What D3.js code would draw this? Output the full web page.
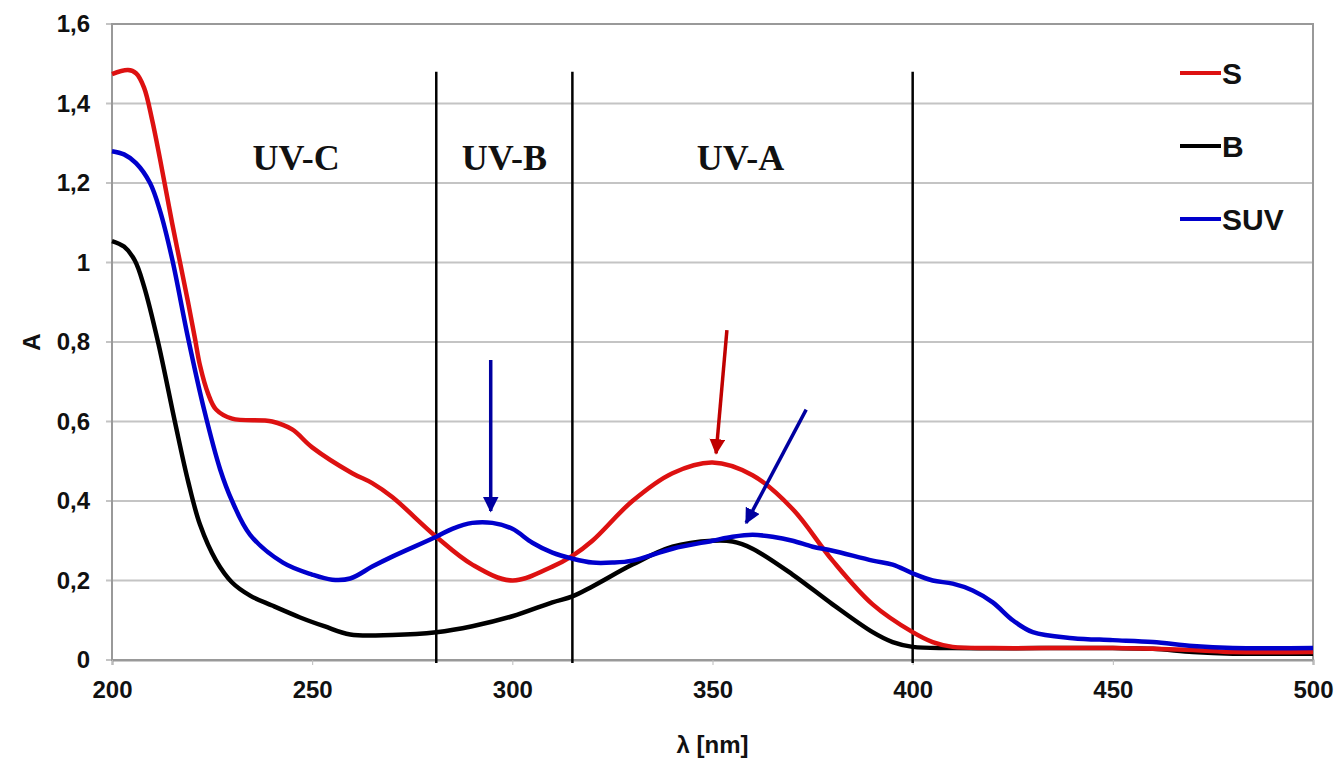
<!DOCTYPE html>
<html lang="es">
  <head>
    <meta charset="UTF-8" />
    <title>Espectros UV</title>
    <script src="https://cdn.jsdelivr.net/npm/d3@7"></script>
    <style>
      body {
        margin: 0;
        padding: 0;
        background: #fff;
      }
      text {
        font-family: "Liberation Sans", Arial, sans-serif;
        font-weight: bold;
      }
    </style>
  </head>
  <body>
    <svg id="chart"></svg>
    <script>
      // longitudes de onda (nm)
      const lambdaS = [200, 204, 206, 208, 210, 212, 215, 217, 219, 220.7, 222, 224, 226, 230, 240, 245, 250, 260, 265, 270, 281, 290, 300, 310, 315, 320, 330, 340, 350, 360, 370, 380, 390, 400, 405, 410, 420, 450, 470, 480, 500];
      const valuesS = [1.474, 1.484, 1.476, 1.44, 1.36, 1.26, 1.1, 1.0, 0.9, 0.81, 0.74, 0.67, 0.63, 0.607, 0.6, 0.58, 0.535, 0.47, 0.445, 0.41, 0.31, 0.24, 0.2, 0.235, 0.262, 0.3, 0.4, 0.47, 0.497, 0.465, 0.38, 0.25, 0.14, 0.07, 0.045, 0.033, 0.03, 0.03, 0.025, 0.02, 0.02];

      const lambdaB = [200, 203, 205.7, 208, 211.5, 215.7, 219, 222, 226, 230, 234.5, 240, 247, 253, 259.5, 270, 281, 290, 300, 310, 315, 320, 330, 340, 350, 355, 360, 370, 380, 390, 395, 400, 410, 450, 460, 470, 480, 500];
      const valuesB = [1.054, 1.04, 1.005, 0.94, 0.8, 0.6, 0.45, 0.34, 0.25, 0.195, 0.162, 0.137, 0.107, 0.085, 0.064, 0.063, 0.07, 0.085, 0.11, 0.145, 0.16, 0.185, 0.24, 0.285, 0.3, 0.298, 0.28, 0.215, 0.14, 0.07, 0.045, 0.033, 0.03, 0.03, 0.028, 0.02, 0.016, 0.016];

      const lambdaSUV = [200, 203, 206, 209.5, 212, 215, 219, 223, 227, 230, 234.5, 242.7, 250, 255, 259.5, 265, 270, 281, 285, 290, 295, 300, 305, 310, 315, 320, 325, 330, 340, 350, 355, 360, 365, 370, 375, 380, 390, 395, 400, 405, 410, 415, 420, 425, 430, 440, 450, 460, 470, 480, 500];
      const valuesSUV = [1.28, 1.272, 1.25, 1.2, 1.13, 1.01, 0.81, 0.63, 0.48, 0.4, 0.315, 0.245, 0.215, 0.202, 0.205, 0.235, 0.26, 0.31, 0.33, 0.345, 0.345, 0.33, 0.295, 0.27, 0.255, 0.245, 0.245, 0.25, 0.28, 0.3, 0.31, 0.315, 0.31, 0.3, 0.285, 0.275, 0.25, 0.24, 0.218, 0.2, 0.192, 0.175, 0.145, 0.1, 0.07, 0.055, 0.05, 0.045, 0.035, 0.03, 0.03];

      const seriesNames = ["S", "B", "SUV"];
      const seriesColors = ["#dd1111", "#000000", "#0000cc"];

      // limites de las bandas UV
      const bandLimits = [281, 315, 400];
      const bandLabels = ["UV-C", "UV-B", "UV-A"];
      const bandLabelX = [246, 298, 357];

      const xTicks = [200, 250, 300, 350, 400, 450, 500];
      const yTicks = [0, 0.2, 0.4, 0.6, 0.8, 1, 1.2, 1.4, 1.6];

      // flechas [x, y] en unidades de datos
      const arrows = [
        { from: [294.6, 0.755], to: [294.6, 0.375], color: "#0000a0" },
        { from: [353.6, 0.83], to: [350.9, 0.52], color: "#c00000" },
        { from: [373.4, 0.63], to: [358.4, 0.345], color: "#0000a0" },
      ];

      const width = 1341;
      const height = 762;
      const margin = { left: 112, right: 28, top: 24, bottom: 102 };

      const svg = d3
        .select("#chart")
        .attr("width", width)
        .attr("height", height);

      const x = d3
        .scaleLinear()
        .domain([200, 500])
        .range([margin.left, width - margin.right]);
      const y = d3
        .scaleLinear()
        .domain([0, 1.6])
        .range([height - margin.bottom, margin.top]);

      const fmt = (d) => String(d).replace(".", ",");

      // rejilla horizontal
      svg
        .append("g")
        .selectAll("line")
        .data(yTicks)
        .enter()
        .append("line")
        .attr("x1", margin.left - 6)
        .attr("x2", width - margin.right)
        .attr("y1", (d) => y(d))
        .attr("y2", (d) => y(d))
        .attr("stroke", "#c4c4c4")
        .attr("stroke-width", 2);

      // marco del area
      svg
        .append("rect")
        .attr("x", margin.left)
        .attr("y", margin.top)
        .attr("width", width - margin.right - margin.left)
        .attr("height", height - margin.bottom - margin.top)
        .attr("fill", "none")
        .attr("stroke", "#999")
        .attr("stroke-width", 2);

      // eje x
      const xAxis = svg
        .append("g")
        .attr("transform", `translate(0,${y(0)})`)
        .call(d3.axisBottom(x).tickValues(xTicks).tickSize(5).tickPadding(16));
      xAxis.select(".domain").attr("stroke", "#999").attr("stroke-width", 2);
      xAxis.selectAll(".tick line").attr("stroke", "#bbb");
      xAxis.selectAll("text").attr("font-size", 24).attr("fill", "#111");

      // eje y
      const yAxis = svg
        .append("g")
        .attr("transform", `translate(${margin.left},0)`)
        .call(d3.axisLeft(y).tickValues(yTicks).tickFormat(fmt).tickSize(0).tickPadding(22));
      yAxis.select(".domain").remove();
      yAxis.selectAll("text").attr("font-size", 24).attr("fill", "#111");

      // lineas verticales de bandas
      svg
        .append("g")
        .selectAll("line")
        .data(bandLimits)
        .enter()
        .append("line")
        .attr("x1", (d) => x(d))
        .attr("x2", (d) => x(d))
        .attr("y1", y(1.48))
        .attr("y2", y(0) + 3)
        .attr("stroke", "#000")
        .attr("stroke-width", 2.5);

      svg
        .append("g")
        .selectAll("text")
        .data(bandLabels)
        .enter()
        .append("text")
        .attr("x", (d, i) => x(bandLabelX[i]))
        .attr("y", 170)
        .attr("text-anchor", "middle")
        .style("font-family", "'Liberation Serif', 'Times New Roman', serif")
        .attr("font-size", 36)
        .attr("fill", "#111")
        .text((d) => d);

      // curvas
      const allSeries = [
        { name: "S", xs: lambdaS, ys: valuesS },
        { name: "B", xs: lambdaB, ys: valuesB },
        { name: "SUV", xs: lambdaSUV, ys: valuesSUV },
      ];
      const line = d3
        .line()
        .x((d) => x(d[0]))
        .y((d) => y(d[1]))
        .curve(d3.curveCatmullRom.alpha(0.5));

      // dibujar B primero, luego S y SUV
      [1, 0, 2].forEach((i) => {
        const s = allSeries[i];
        svg
          .append("path")
          .datum(d3.zip(s.xs, s.ys))
          .attr("d", line)
          .attr("fill", "none")
          .attr("stroke", seriesColors[i])
          .attr("stroke-width", 4.5)
          .attr("stroke-linejoin", "round");
      });

      // flechas
      const defs = svg.append("defs");
      arrows.forEach((a, i) => {
        defs
          .append("marker")
          .attr("id", "arrow" + i)
          .attr("viewBox", "0 0 10 10")
          .attr("refX", 9)
          .attr("refY", 5)
          .attr("markerWidth", 4.5)
          .attr("markerHeight", 4.5)
          .attr("markerUnits", "strokeWidth")
          .attr("orient", "auto")
          .append("path")
          .attr("d", "M0,0 L10,5 L0,10 z")
          .attr("fill", a.color);
        svg
          .append("line")
          .attr("x1", x(a.from[0]))
          .attr("y1", y(a.from[1]))
          .attr("x2", x(a.to[0]))
          .attr("y2", y(a.to[1]))
          .attr("stroke", a.color)
          .attr("stroke-width", 3.5)
          .attr("marker-end", `url(#arrow${i})`);
      });

      // leyenda
      const legend = svg
        .append("g")
        .selectAll("g")
        .data(seriesNames)
        .enter()
        .append("g")
        .attr("transform", (d, i) => `translate(1180,${73 + i * 73})`);
      legend
        .append("line")
        .attr("x1", 0)
        .attr("x2", 41)
        .attr("stroke", (d, i) => seriesColors[i])
        .attr("stroke-width", 4);
      legend
        .append("text")
        .attr("x", 42)
        .attr("dy", "0.36em")
        .attr("font-size", 30)
        .attr("fill", "#111")
        .text((d) => d);

      // titulos de ejes
      svg
        .append("text")
        .attr("transform", `translate(40,${(y(0) + y(1.6)) / 2}) rotate(-90)`)
        .attr("text-anchor", "middle")
        .attr("font-size", 24)
        .attr("fill", "#111")
        .text("A");
      svg
        .append("text")
        .attr("x", x(350))
        .attr("y", 753)
        .attr("text-anchor", "middle")
        .attr("font-size", 24)
        .attr("fill", "#111")
        .text("λ [nm]");
    </script>
  </body>
</html>
